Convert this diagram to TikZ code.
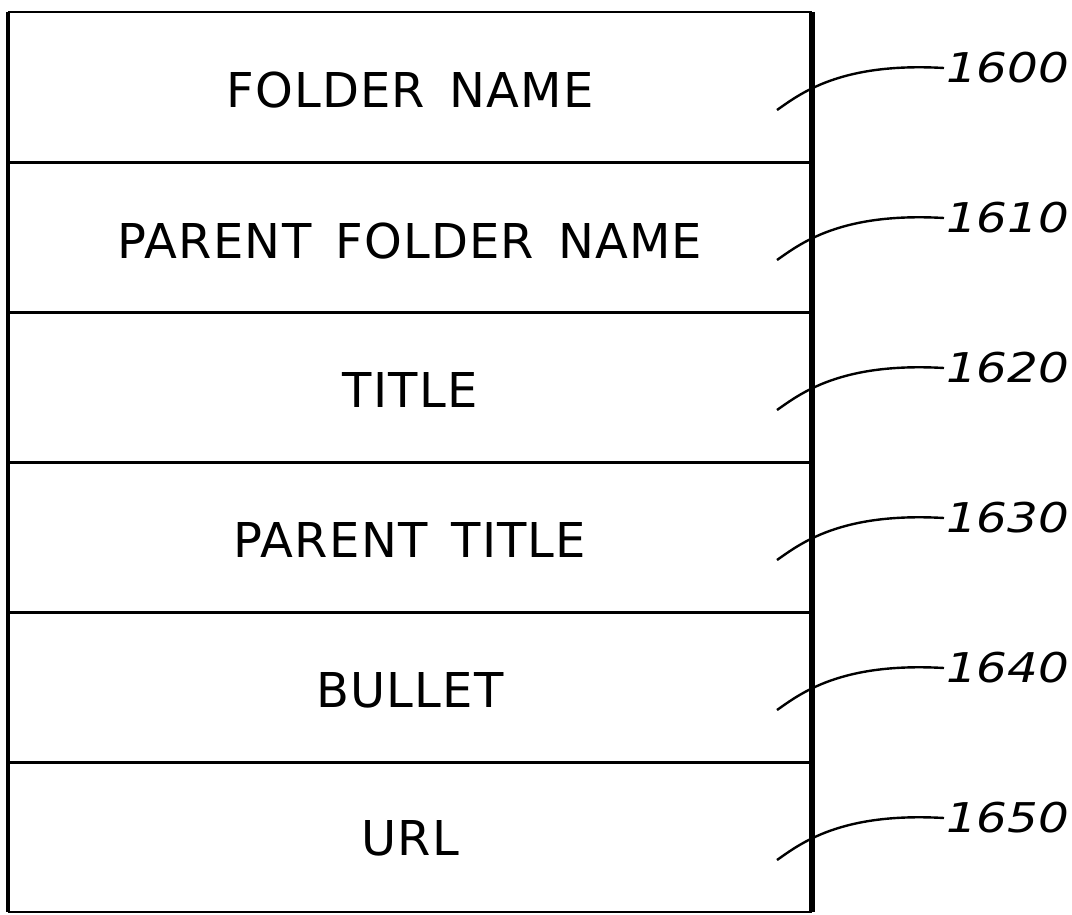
\documentclass[tikz,border=0pt]{standalone}
\usepackage{fontspec}
\setmainfont{DejaVu Sans}
\newfontfamily\labelfont{DejaVu Sans Oblique}
\newcommand\rowfontsel{\fontsize{48}{50}\selectfont\addfontfeatures{LetterSpace=2.5}\spaceskip 0.5em\relax}
\begin{document}
\begin{tikzpicture}[x=1pt,y=-1pt,
  rowbox/.style={draw=none,minimum width=804pt,minimum height=150pt,inner sep=0pt},
  rowtext/.style={font=\rowfontsel,inner sep=0pt},
  reflabel/.style={font=\fontsize{41}{44}\labelfont,anchor=west,inner sep=0pt},
  divider/.style={line width=2.6pt},
  leader/.style={line width=2.4pt}]
\useasboundingbox (0,0) rectangle (1072,914);
\fill[white] (0,0) rectangle (1072,914);
% rows
\node[rowbox] (r1) at (410,87) {};
\node[rowbox] (r2) at (410,237) {};
\node[rowbox] (r3) at (410,387) {};
\node[rowbox] (r4) at (410,537) {};
\node[rowbox] (r5) at (410,687) {};
\node[rowbox] (r6) at (410,837) {};
% texts
\node[rowtext] (t1) at ([yshift=-3pt]r1.center) {FOLDER NAME};
\node[rowtext] (t2) at ([yshift=-4pt]r2.center) {PARENT FOLDER NAME};
\node[rowtext] (t3) at ([yshift=-3pt]r3.center) {TITLE};
\node[rowtext] (t4) at ([yshift=-3pt]r4.center) {PARENT TITLE};
\node[rowtext] (t5) at ([yshift=-3pt]r5.center) {BULLET};
\node[rowtext] (t6) at ([yshift=-1pt]r6.center) {URL};
% dividers
\draw[divider] (r1.south west) -- (r1.south east);
\draw[divider] (r2.south west) -- (r2.south east);
\draw[divider] (r3.south west) -- (r3.south east);
\draw[divider] (r4.south west) -- (r4.south east);
\draw[line width=3.4pt] (r5.south west) -- (r5.south east);
% outline
\draw[line width=2.4pt] (r1.north west) -- (r1.north east);
\draw[line width=2.4pt] (r6.south west) -- (r6.south east);
\draw[line width=3.4pt] (r1.north west) -- (r6.south west);
\draw[line width=6pt] (r1.north east) -- (r6.south east);
% leaders and labels
\foreach \i/\T/\lab in {1/12/1600,2/162/1610,3/312/1620,4/462/1630,5/612/1640,6/762/1650}{
  \coordinate (s\i) at (777,\T+98);
  \node[reflabel] (l\i) at (946,\T+56) {\scalebox{1.18}[1]{\lab}};
  \draw[leader] (s\i) .. controls (800,\T+82) and (840,\T+50) .. ([xshift=-2pt]l\i.west);
}
\end{tikzpicture}
\end{document}
